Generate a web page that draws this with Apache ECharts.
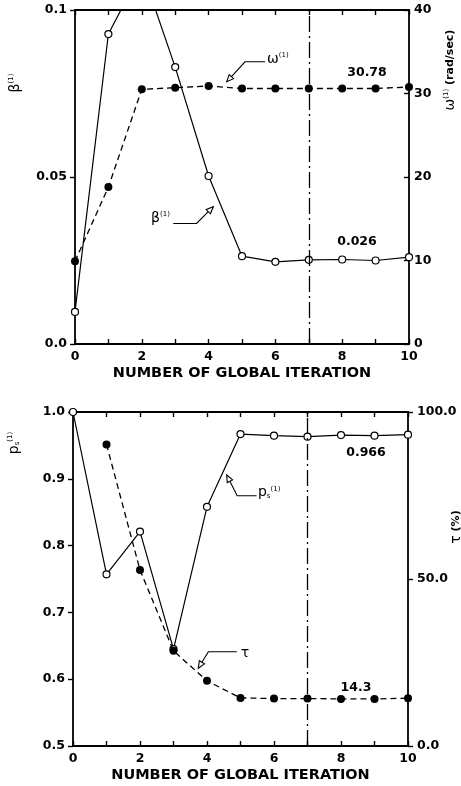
<!DOCTYPE html>
<html>
<head>
<meta charset="utf-8">
<script src="https://cdn.jsdelivr.net/npm/echarts@6/dist/echarts.min.js"></script>
<style>
  html, body { margin: 0; padding: 0; background: #fff; }
  #chart { width: 461px; height: 786px; }
</style>
</head>
<body>
<div id="chart"></div>
<script>
// ---- data: convergence history per global iteration ----
const iterations = [0, 1, 2, 3, 4, 5, 6, 7, 8, 9, 10];
const betaValues = [0.0096, 0.0928, 0.112, 0.0829, 0.0503, 0.0263, 0.0246, 0.0252, 0.0253, 0.0250, 0.026];
const omegaValues = [9.9, 18.8, 30.5, 30.7, 30.9, 30.6, 30.6, 30.6, 30.6, 30.6, 30.78];
const psValues = [1.0, 0.757, 0.821, 0.645, 0.858, 0.967, 0.9645, 0.963, 0.9655, 0.9645, 0.966];
const tauIterations = [1, 2, 3, 4, 5, 6, 7, 8, 9, 10];
const tauValues = [90.3, 52.7, 28.5, 19.5, 14.4, 14.2, 14.2, 14.1, 14.1, 14.3];
const convergedIteration = 7;

// ---- tick labels ----
const xTickLabels = ['0', '', '2', '', '4', '', '6', '', '8', '', '10'];
const betaTickLabels = ['0.0', '0.05', '0.1'];
const omegaTickLabels = ['0', '10', '20', '30', '40'];
const psTickLabels = ['0.5', '0.6', '0.7', '0.8', '0.9', '1.0'];
const tauTickLabels = ['0.0', '50.0', '100.0'];
const xTitle = 'NUMBER OF GLOBAL ITERATION';

const FONT = 'DejaVu Sans';
const INK = '#000';
const AXIS_W = 1.8;

const chart = echarts.init(document.getElementById('chart'), null, { renderer: 'canvas' });

function xAxisPair(gridIndex) {
  const common = {
    type: 'value', gridIndex, min: 0, max: 10, interval: 1,
    splitLine: { show: false },
    axisLine: { show: true, onZero: false, lineStyle: { color: INK, width: AXIS_W } },
    axisTick: { show: true, inside: true, length: 5, lineStyle: { color: INK, width: 1.4 } }
  };
  return [
    Object.assign({}, common, {
      position: 'bottom',
      name: xTitle, nameLocation: 'middle', nameGap: 22,
      nameTextStyle: { fontFamily: FONT, fontWeight: 'bold', fontSize: 14.5, color: INK },
      axisLabel: {
        margin: 6, fontFamily: FONT, fontWeight: 'bold', fontSize: 12.5, color: INK,
        formatter: v => xTickLabels[Math.round(v)] || ''
      }
    }),
    Object.assign({}, common, { position: 'top', axisLabel: { show: false } })
  ];
}

function yAxis(gridIndex, position, min, max, interval, labels, opts) {
  return Object.assign({
    type: 'value', gridIndex, position, min, max, interval,
    splitLine: { show: false },
    axisLine: { show: true, onZero: false, lineStyle: { color: INK, width: AXIS_W } },
    axisTick: { show: true, inside: false, length: 5, lineStyle: { color: INK, width: 1.4 } },
    axisLabel: {
      margin: 8, fontFamily: FONT, fontWeight: 'bold', fontSize: 12.5, color: INK,
      formatter: v => labels[Math.round((v - min) / interval)]
    }
  }, opts || {});
}

const openSymbol = { symbol: 'circle', symbolSize: 7, itemStyle: { color: '#fff', borderColor: INK, borderWidth: 1.2 } };
const filledSymbol = { symbol: 'circle', symbolSize: 8, itemStyle: { color: INK, borderColor: INK, borderWidth: 0 } };

function withEndLabel(xs, ys, offset) {
  const last = xs.length - 1;
  return xs.map((x, i) => i === last ? {
    value: [x, ys[i]],
    label: {
      show: true, position: 'inside', offset,
      formatter: p => String(p.value[1]),
      fontFamily: FONT, fontWeight: 'bold', fontSize: 12.5, color: INK
    }
  } : [x, ys[i]]);
}

const convergedLine = {
  silent: true, symbol: 'none', animation: false,
  label: { show: false },
  lineStyle: { color: INK, width: 1.3, type: [16, 4, 2, 4] },
  data: [{ xAxis: convergedIteration }]
};

const xs = xAxisPair(0).concat(xAxisPair(1));

chart.setOption({
  animation: false,
  backgroundColor: '#fff',
  grid: [
    { left: 75, top: 10, width: 334, height: 334 },
    { left: 73, top: 412, width: 335, height: 334 }
  ],
  xAxis: xs,
  yAxis: [
    yAxis(0, 'left', 0, 0.1, 0.05, betaTickLabels),
    yAxis(0, 'right', 0, 40, 10, omegaTickLabels, {
      axisTick: { show: true, inside: true, length: 5, lineStyle: { color: INK, width: 1.4 } },
      axisLabel: { margin: 5, fontFamily: FONT, fontWeight: 'bold', fontSize: 12.5, color: INK,
        formatter: v => omegaTickLabels[Math.round(v / 10)] }
    }),
    yAxis(1, 'left', 0.5, 1.0, 0.1, psTickLabels),
    yAxis(1, 'right', 0, 100, 50, tauTickLabels, {
      axisLabel: { margin: 9, fontFamily: FONT, fontWeight: 'bold', fontSize: 12.5, color: INK,
        formatter: v => tauTickLabels[Math.round(v / 50)] }
    })
  ],
  series: [
    Object.assign({
      name: 'beta', type: 'line', xAxisIndex: 0, yAxisIndex: 0, clip: true, z: 3,
      lineStyle: { color: INK, width: 1.2, type: 'solid' },
      data: withEndLabel(iterations, betaValues, [-52, -15]),
      markLine: convergedLine
    }, openSymbol),
    Object.assign({
      name: 'omega', type: 'line', xAxisIndex: 0, yAxisIndex: 1, clip: true, z: 4,
      lineStyle: { color: INK, width: 1.3, type: [6, 4] },
      data: withEndLabel(iterations, omegaValues, [-42, -14])
    }, filledSymbol),
    Object.assign({
      name: 'ps', type: 'line', xAxisIndex: 2, yAxisIndex: 2, clip: true, z: 3,
      lineStyle: { color: INK, width: 1.2, type: 'solid' },
      data: withEndLabel(iterations, psValues, [-42, 18]),
      markLine: convergedLine
    }, openSymbol),
    Object.assign({
      name: 'tau', type: 'line', xAxisIndex: 2, yAxisIndex: 3, clip: true, z: 4,
      lineStyle: { color: INK, width: 1.3, type: [6, 4] },
      data: withEndLabel(tauIterations, tauValues, [-52, -10])
    }, filledSymbol)
  ]
});

// ---- curve callouts (anchored in data coordinates) ----
const callouts = [
  { axes: { xAxisIndex: 0, yAxisIndex: 0 }, path: [[5.69, 0.0845], [5.09, 0.0845], [4.54, 0.0785]],
    text: [5.75, 0.0853], base: 'ω', sub: '', sup: '(1)', align: 'left' },
  { axes: { xAxisIndex: 0, yAxisIndex: 0 }, path: [[2.94, 0.0361], [3.64, 0.0361], [4.14, 0.0411]],
    text: [2.84, 0.0377], base: 'β', sub: '', sup: '(1)', align: 'right' },
  { axes: { xAxisIndex: 2, yAxisIndex: 2 }, path: [[5.48, 0.8747], [4.90, 0.8747], [4.59, 0.9057]],
    text: [5.52, 0.879], base: 'p', sub: 's', sup: '(1)', align: 'left' },
  { axes: { xAxisIndex: 2, yAxisIndex: 2 }, path: [[4.89, 0.6412], [4.04, 0.6412], [3.74, 0.6163]],
    text: [5.01, 0.638], base: 'τ', sub: '', sup: '', align: 'left' }
];

const richStyles = {
  b: { fontFamily: FONT, fontSize: 14, fill: INK },
  sub: { fontFamily: FONT, fontSize: 7, fill: INK, verticalAlign: 'bottom' },
  sup: { fontFamily: FONT, fontSize: 7, fill: INK, verticalAlign: 'top' }
};

function richText(base, sub, sup) {
  let s = '{b|' + base + '}';
  if (sub) s += '{sub|' + sub + '}';
  if (sup) s += '{sup|' + sup + '}';
  return s;
}

const graphics = [];
callouts.forEach(c => {
  const pts = c.path.map(p => chart.convertToPixel(c.axes, p));
  graphics.push({ type: 'polyline', silent: true, z: 10, shape: { points: pts },
    style: { stroke: INK, lineWidth: 1.1, fill: null } });
  const tip = pts[pts.length - 1], prev = pts[pts.length - 2];
  const dx = tip[0] - prev[0], dy = tip[1] - prev[1];
  const len = Math.hypot(dx, dy), ux = dx / len, uy = dy / len;
  const L = 7, Wd = 3;
  const bx = tip[0] - ux * L, by = tip[1] - uy * L;
  graphics.push({ type: 'polygon', silent: true, z: 11, shape: { points: [
      tip, [bx - uy * Wd, by + ux * Wd], [bx + uy * Wd, by - ux * Wd]] },
    style: { stroke: INK, lineWidth: 1.1, fill: '#fff' } });
  const tp = chart.convertToPixel(c.axes, c.text);
  graphics.push({ type: 'text', silent: true, z: 11, x: tp[0], y: tp[1],
    style: { text: richText(c.base, c.sub, c.sup), rich: richStyles, align: c.align, verticalAlign: 'middle',
      font: '14px ' + FONT, fill: INK } });
});

// ---- axis titles ----
const axisTitles = [
  { x: 15, y: 83, text: richText('β', '', '(1)') },
  { x: 450, y: 70, text: richText('ω', '', '(1)') + '{u| (rad/sec)}' },
  { x: 14, y: 443, text: richText('p', 's', '(1)') },
  { x: 456, y: 527, text: '{b|τ}{u| (%)}' }
];
const titleRich = Object.assign({}, richStyles, {
  u: { fontFamily: FONT, fontSize: 11, fontWeight: 'bold', fill: INK }
});
axisTitles.forEach(t => {
  graphics.push({ type: 'text', silent: true, z: 11, x: t.x, y: t.y, rotation: Math.PI / 2,
    style: { text: t.text, rich: titleRich, align: 'center', verticalAlign: 'middle',
      font: '14px ' + FONT, fill: INK } });
});

chart.setOption({ graphic: { elements: graphics } });
</script>
</body>
</html>
